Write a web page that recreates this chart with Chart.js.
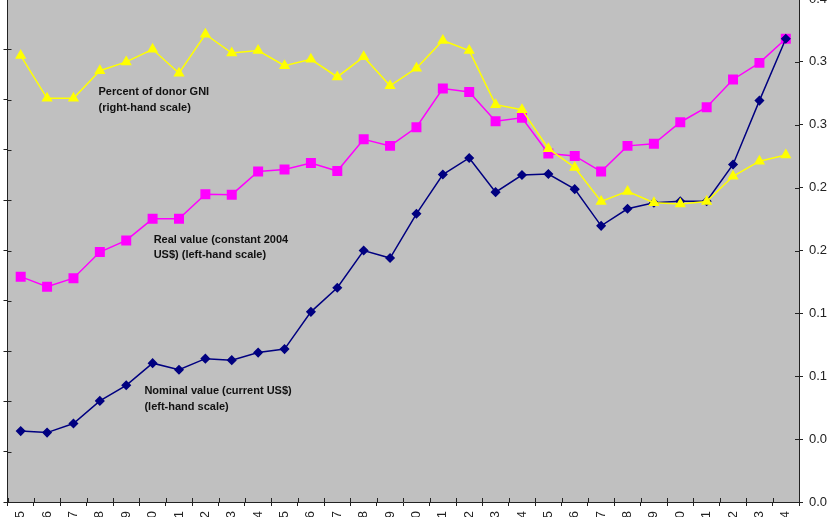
<!DOCTYPE html>
<html>
<head>
<meta charset="utf-8">
<script src="https://cdn.jsdelivr.net/npm/chart.js@4"></script>
<style>
  html, body { margin: 0; padding: 0; background: #fff; overflow: hidden; }
  #wrap { position: relative; width: 829px; height: 517px; overflow: hidden; }
  #grafico { position: absolute; left: 0; top: -30px; }
</style>
</head>
<body>
<div id="wrap">
  <canvas id="grafico" width="829" height="600"></canvas>
</div>
<script>
// anos (só o último dígito aparece na imagem)
const anos = [];
for (let a = 1975; a <= 2004; a++) anos.push(String(a));

// valor nominal (US$ correntes) - escala da esquerda
const nominal = [14.1, 13.8, 15.6, 20.1, 23.2, 27.6, 26.3, 28.5, 28.2, 29.7,
                 30.4, 37.8, 42.6, 50.0, 48.5, 57.3, 65.1, 68.4, 61.6, 65.0,
                 65.2, 62.2, 54.9, 58.3, 59.5, 59.8, 59.8, 67.1, 79.8, 92.1];

// valor real (US$ constantes de 2004) - escala da esquerda
const real = [44.8, 42.8, 44.5, 49.7, 52.0, 56.3, 56.3, 61.2, 61.1, 65.7,
              66.1, 67.4, 65.8, 72.1, 70.8, 74.5, 82.2, 81.5, 75.7, 76.4,
              69.3, 68.8, 65.7, 70.8, 71.2, 75.5, 78.5, 84.0, 87.3, 92.1];

// % do RNB dos doadores - escala da direita
const percentual = [0.355, 0.321, 0.321, 0.343, 0.350, 0.360, 0.341, 0.372, 0.357, 0.359,
                    0.347, 0.352, 0.338, 0.354, 0.331, 0.345, 0.367, 0.359, 0.316, 0.312,
                    0.281, 0.266, 0.239, 0.247, 0.238, 0.237, 0.239, 0.259, 0.271, 0.276];

// rótulos da escala da direita (como no original, arredondados a 1 casa)
const rotulosDireita = ["0.0", "0.0", "0.1", "0.1", "0.2", "0.2", "0.3", "0.3", "0.4"];

// textos dentro do gráfico: posição em índice de categoria + valor no eixo
const anotacoes = [
  { linhas: ["Percent of donor GNI", "(right-hand scale)"], x: 2.95, y: 0.326, eixo: "y1" },
  { linhas: ["Real value (constant 2004", "US$) (left-hand scale)"], x: 5.04, y: 52.1, eixo: "y" },
  { linhas: ["Nominal value (current US$)", "(left-hand scale)"], x: 4.69, y: 22.0, eixo: "y" }
];

const fundoCinza = {
  id: "fundoCinza",
  beforeDraw(chart) {
    const { ctx, chartArea: a } = chart;
    ctx.save();
    ctx.fillStyle = "#C0C0C0";
    ctx.fillRect(a.left, a.top, a.right - a.left, a.bottom - a.top);
    ctx.restore();
  }
};

// parte interna das marcas de escala (no original elas cruzam o eixo)
const marcasInternas = {
  id: "marcasInternas",
  afterDraw(chart) {
    const { ctx, chartArea: a, scales } = chart;
    ctx.save();
    ctx.strokeStyle = "#222";
    ctx.lineWidth = 1;
    ctx.beginPath();
    scales.y.ticks.forEach((t, i) => {
      const py = Math.round(scales.y.getPixelForTick(i)) + 0.5;
      ctx.moveTo(a.left, py); ctx.lineTo(a.left + 4, py);
    });
    scales.y1.ticks.forEach((t, i) => {
      const py = Math.round(scales.y1.getPixelForTick(i)) + 0.5;
      ctx.moveTo(a.right - 4, py); ctx.lineTo(a.right, py);
    });
    for (let i = 0; i <= anos.length; i++) {
      const px = Math.round(scales.x.getPixelForValue(i - 0.5)) + 0.5;
      ctx.moveTo(px, a.bottom - 4); ctx.lineTo(px, a.bottom);
    }
    ctx.stroke();
    ctx.restore();
  }
};

const textos = {
  id: "textos",
  afterDatasetsDraw(chart) {
    const ctx = chart.ctx;
    ctx.save();
    ctx.font = "bold 11px 'Liberation Sans', Arial, sans-serif";
    ctx.fillStyle = "#111";
    ctx.textBaseline = "middle";
    ctx.textAlign = "left";
    anotacoes.forEach(n => {
      const px = chart.scales.x.getPixelForValue(n.x);
      const py = chart.scales[n.eixo].getPixelForValue(n.y);
      n.linhas.forEach((l, i) => ctx.fillText(l, px, py + i * 15.5));
    });
    ctx.restore();
  }
};

Chart.defaults.font.family = "'Liberation Sans', Arial, sans-serif";

new Chart(document.getElementById("grafico"), {
  type: "line",
  data: {
    labels: anos,
    datasets: [
      {
        label: "Percent of donor GNI",
        data: percentual,
        yAxisID: "y1",
        borderColor: "#FFFF00",
        backgroundColor: "#FFFF00",
        pointStyle: "triangle",
        pointRadius: 5,
        borderWidth: 1.5,
        order: 0
      },
      {
        label: "Nominal value",
        data: nominal,
        yAxisID: "y",
        borderColor: "#000080",
        backgroundColor: "#000080",
        pointStyle: "rectRot",
        pointRadius: 4,
        borderWidth: 1.5,
        order: 1
      },
      {
        label: "Real value",
        data: real,
        yAxisID: "y",
        borderColor: "#FF00FF",
        backgroundColor: "#FF00FF",
        pointStyle: "rect",
        pointRadius: 6,
        borderWidth: 1.5,
        order: 2
      }
    ]
  },
  options: {
    responsive: false,
    animation: false,
    devicePixelRatio: 1,
    layout: { padding: { top: 29, left: 0, right: 0, bottom: 0 } },
    plugins: {
      legend: { display: false },
      tooltip: { enabled: false }
    },
    scales: {
      x: {
        offset: true,
        grid: { offset: true, drawOnChartArea: false, tickLength: 4, color: "#222" },
        border: { color: "#222", width: 1 },
        ticks: {
          autoSkip: false,
          minRotation: 90,
          maxRotation: 90,
          padding: 5,
          color: "#222",
          font: { size: 13 }
        },
        afterFit(s) { s.height = 68; }
      },
      y: {
        position: "left",
        min: 0,
        max: 100,
        ticks: { stepSize: 10, display: false },
        grid: { drawOnChartArea: false, tickLength: 4, color: "#222" },
        border: { color: "#222", width: 1 },
        afterFit(s) { s.width = 7; }
      },
      y1: {
        position: "right",
        min: 0,
        max: 0.4,
        ticks: {
          stepSize: 0.05,
          padding: 6,
          color: "#222",
          font: { size: 13 },
          callback: (v, i) => rotulosDireita[i]
        },
        grid: { drawOnChartArea: false, tickLength: 4, color: "#222" },
        border: { color: "#222", width: 1 },
        afterFit(s) { s.width = 30; }
      }
    }
  },
  plugins: [fundoCinza, marcasInternas, textos]
});
</script>
</body>
</html>
